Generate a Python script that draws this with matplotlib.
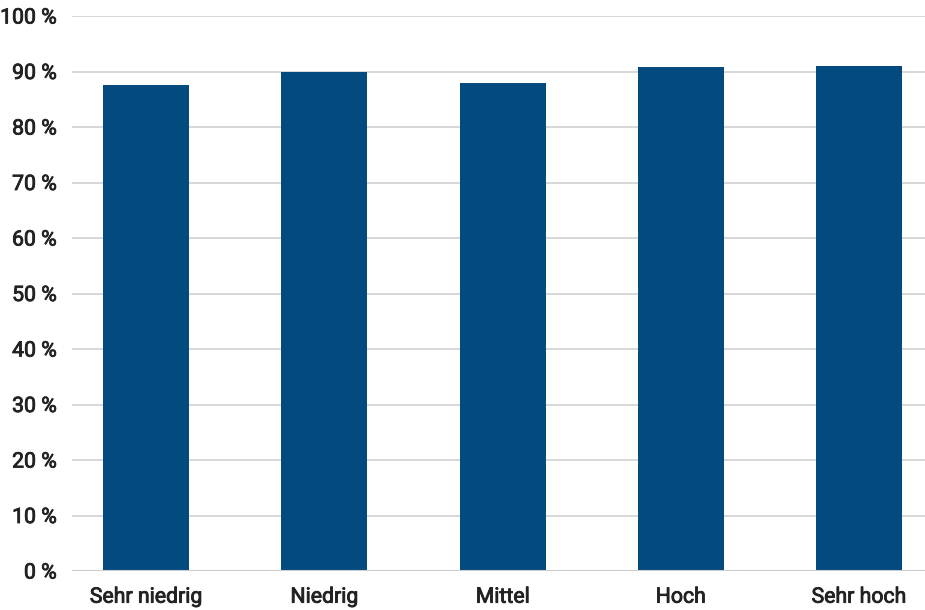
import matplotlib.pyplot as plt
import matplotlib.patheffects as pe
import numpy as np

# Data
categories = ['Sehr niedrig', 'Niedrig', 'Mittel', 'Hoch', 'Sehr hoch']
values = [87.6, 90.0, 87.9, 90.8, 91.0]
yticks = [0, 10, 20, 30, 40, 50, 60, 70, 80, 90, 100]
ytick_labels = [f'{t} %' for t in yticks]

plt.rcParams['font.family'] = ['Roboto', 'DejaVu Sans']

fig = plt.figure(figsize=(9.25, 6.1), dpi=100)
ax = fig.add_axes([72 / 925, 1 - 571 / 610, 1 - 72 / 925, (571 - 16) / 610])

x = np.arange(len(categories))
ax.bar(x, values, width=0.483, color='#034a7f', zorder=3)

ax.set_ylim(0, 100)
ax.set_xlim(-0.416, 4.37)
ax.set_yticks(yticks)
ax.set_yticklabels(ytick_labels)
ax.set_xticks(x)
ax.set_xticklabels(categories)

ax.grid(axis='y', color='#d4d4d4', linewidth=1.3, zorder=0)
ax.axhline(0, color='#cccccc', linewidth=1.5, zorder=4)
for s in ax.spines.values():
    s.set_visible(False)
ax.tick_params(axis='both', length=0, labelsize=15.3, colors='#222222')
ax.tick_params(axis='y', pad=11)
ax.tick_params(axis='x', pad=12)
# make the labels a bit heavier, like Roboto Medium
for lbl in ax.get_xticklabels() + ax.get_yticklabels():
    lbl.set_path_effects([pe.withStroke(linewidth=0.6, foreground='#222222')])

fig.savefig('out.png', dpi=100, facecolor='white')
